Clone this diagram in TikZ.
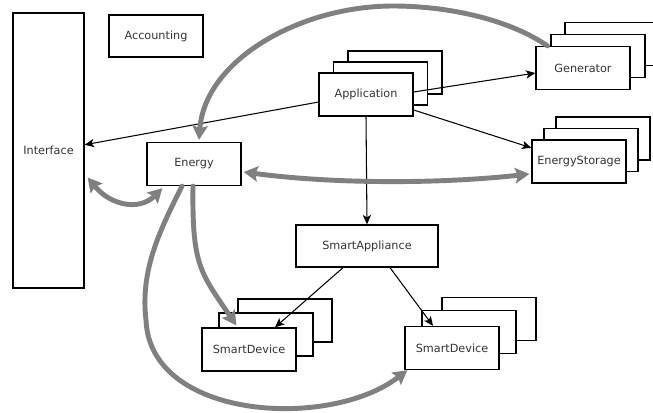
\documentclass[tikz,border=0pt]{standalone}
\usepackage{fontspec}
\setmainfont{DejaVu Sans}
\usetikzlibrary{positioning, arrows.meta, calc}

\begin{document}
\begin{tikzpicture}[
  x=0.03cm, y=-0.03cm,
  font=\fontsize{9.6}{11}\selectfont,
  box/.style={draw=black, fill=white, line width=1.1pt, text=black!80,
    minimum width=2.82cm, minimum height=1.29cm, inner sep=0pt},
  backbox/.style={box},
  call/.style={-{Stealth[length=8pt, width=7pt, inset=2pt]}, line width=0.9pt, draw=black},
  power/.style={line width=4.2pt, draw=gray, line cap=round,
    -{Stealth[length=12pt, width=13pt, inset=2pt]}},
  twoway/.style={power, {Stealth[length=12pt, width=13pt, inset=2pt]}-{Stealth[length=12pt, width=13pt, inset=2pt]}}
]
\useasboundingbox (0,0) rectangle (653,412);
\clip (0,0) rectangle (653,412);

% single boxes
\node[box, minimum width=2.13cm, minimum height=8.25cm] (iface) at (48.5,150.5) {Interface};
\node[box, minimum height=1.26cm] (acc) at (156,36) {Accounting};
\node[box] (energy) at (194,164) {Energy};
\node[box, minimum width=4.26cm, minimum height=1.26cm] (sa) at (367,246) {SmartAppliance};

% stacked boxes
\node[backbox] (app3) at (395,72.5) {};
\node[backbox] (app2) at (380.5,83.5) {};
\node[box] (app) at (366,94.5) {Application};

\node[backbox] (gen3) at (612,44) {};
\node[backbox] (gen2) at (598,56) {};
\node[box] (gen) at (583,68) {Generator};

\node[backbox] (es3) at (603,138.5) {};
\node[backbox] (es2) at (591,150) {};
\node[box] (es) at (579,161.5) {EnergyStorage};

\node[backbox] (sdl3) at (285,320.5) {};
\node[backbox] (sdl2) at (266,334.5) {};
\node[box] (sdl) at (249,349.5) {SmartDevice};

\node[backbox] (sdr3) at (489,319) {};
\node[backbox] (sdr2) at (469,332) {};
\node[box] (sdr) at (452,348) {SmartDevice};

% calls
\draw[call] (app.189) -- (iface.9);
\draw[call] (app.3) -- (gen.186);
\draw[call] (app.-18) -- (es.164);
\draw[call] (app.south) -- (sa.north);
\draw[call] ($(sa.south)+(-24,0)$) -- ($(sdl.north)+(26,0)$);
\draw[call] ($(sa.south)+(23,0)$) -- ($(sdr.north)+(-19,0)$);

% energy flows
\draw[power] ($(gen.north west)+(12,0)$) .. controls (510,20) and (450,6) .. (393,6)
  .. controls (300,6) and (205,60) .. ($(energy.north)+(5,-2)$);
\draw[twoway] ($(energy.east)+(2,8)$) .. controls +(90,12) and +(-90,10) .. ($(es.west)+(-2,12.5)$);
\draw[twoway] ($(iface.east)+(3,27)$) .. controls +(23,28) and +(-23,23) .. ($(energy.south west)+(16,2)$);
\draw[power] ($(energy.south)+(-1,0)$) .. controls (192,265) and (200,272) .. ($(sdl.north west)+(35,-2)$);
\draw[power] ($(energy.south)+(-12,0)$) .. controls (160,230) and (140,270) .. (146,320)
  .. controls (150,420) and (330,430) .. ($(sdr.south west)+(3,0)$);

\end{tikzpicture}
\end{document}
